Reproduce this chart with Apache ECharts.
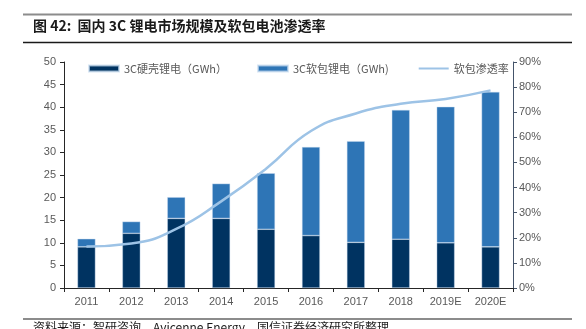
<!DOCTYPE html>
<html>
<head>
<meta charset="utf-8">
<script src="https://cdn.jsdelivr.net/npm/echarts@6/dist/echarts.min.js"></script>
<style>html,body{margin:0;padding:0;background:#fff;}#c{width:586px;height:329px;}</style>
</head>
<body>
<div id="c"></div>
<script>
var categories = ['2011','2012','2013','2014','2015','2016','2017','2018','2019E','2020E'];
var hardShell = [9.1, 12.1, 15.4, 15.4, 13.0, 11.6, 10.1, 10.8, 10.0, 9.1];
var softPack = [1.8, 2.6, 4.7, 7.7, 12.4, 19.6, 22.4, 28.6, 30.1, 34.3];
var softRate = [16.5, 17.7, 23.5, 34.5, 47.5, 62.5, 69.5, 73.4, 75.3, 78.7];
var leftTicks = {min: 0, max: 50, interval: 5};
var rightTicks = {min: 0, max: 90, interval: 10};

var chart = echarts.init(document.getElementById('c'), null, {renderer: 'canvas'});
var labelFont = 'Liberation Sans, Arial, sans-serif';
chart.setOption({
  animation: false,
  backgroundColor: '#fff',
  graphic: [
    {type: 'line', shape: {x1: 23, y1: 14.5, x2: 572, y2: 14.5}, style: {stroke: '#8c8c8c', lineWidth: 2}},
    {type: 'text', left: 33, top: 19, style: {text: '图 42:  国内 3C 锂电市场规模及软包电池渗透率', font: 'bold 14px "Noto Sans CJK SC", sans-serif', fill: '#1a1a1a'}},
    {type: 'line', shape: {x1: 23, y1: 42.5, x2: 572, y2: 42.5}, style: {stroke: '#1a1a1a', lineWidth: 1.5}},
    {type: 'line', shape: {x1: 23, y1: 319, x2: 572, y2: 319}, style: {stroke: '#8c8c8c', lineWidth: 2}},
    {type: 'text', left: 33, top: 321, style: {text: '资料来源：智研咨询，Avicenne Energy，国信证券经济研究所整理', font: '12px "Noto Sans CJK SC", sans-serif', fill: '#1a1a1a'}}
  ],
  legend: {
    top: 58, left: 83, itemGap: 30,
    itemWidth: 30, itemHeight: 6,
    textStyle: {color: '#595959', fontSize: 11, fontFamily: '"Noto Sans CJK SC", sans-serif'},
    data: [
      {name: '3C硬壳锂电（GWh）', icon: 'rect'},
      {name: '3C软包锂电（GWh)', icon: 'rect'},
      {name: '软包渗透率', icon: 'path://M0,0 L30,0 L30,2 L0,2 Z', itemStyle: {color: '#9DC3E6'}}
    ]
  },
  grid: {left: 64, right: 73, top: 62, bottom: 41},
  xAxis: {
    type: 'category', data: categories, boundaryGap: true,
    axisLine: {lineStyle: {color: '#262626', width: 1}},
    axisTick: {show: true, length: 4, lineStyle: {color: '#262626'}},
    axisLabel: {color: '#595959', fontSize: 11, fontFamily: labelFont, margin: 8}
  },
  yAxis: [
    {type: 'value', min: leftTicks.min, max: leftTicks.max, interval: leftTicks.interval,
     splitLine: {show: false},
     axisLine: {show: true, lineStyle: {color: '#262626'}},
     axisTick: {show: true, length: 4, lineStyle: {color: '#262626'}},
     axisLabel: {color: '#595959', fontSize: 11, fontFamily: labelFont, margin: 8}},
    {type: 'value', min: rightTicks.min, max: rightTicks.max, interval: rightTicks.interval,
     position: 'right', splitLine: {show: false},
     axisLine: {show: true, lineStyle: {color: '#44546A'}},
     axisTick: {show: true, length: 4, lineStyle: {color: '#44546A'}},
     axisLabel: {color: '#595959', fontSize: 11, fontFamily: labelFont, margin: 6, formatter: '{value}%'}}
  ],
  series: [
    {name: '3C硬壳锂电（GWh）', type: 'bar', stack: 'total', data: hardShell, barWidth: 18,
     itemStyle: {color: '#003361', borderColor: 'rgba(200,220,240,0.7)', borderWidth: 0.6}},
    {name: '3C软包锂电（GWh)', type: 'bar', stack: 'total', data: softPack, barWidth: 18,
     itemStyle: {color: '#2E75B6', borderColor: 'rgba(200,220,240,0.7)', borderWidth: 0.6}},
    {name: '软包渗透率', type: 'line', yAxisIndex: 1, data: softRate, smooth: true,
     showSymbol: false, symbol: 'none',
     lineStyle: {color: '#9DC3E6', width: 2.5}, itemStyle: {color: '#9DC3E6'}}
  ]
});
</script>
</body>
</html>
